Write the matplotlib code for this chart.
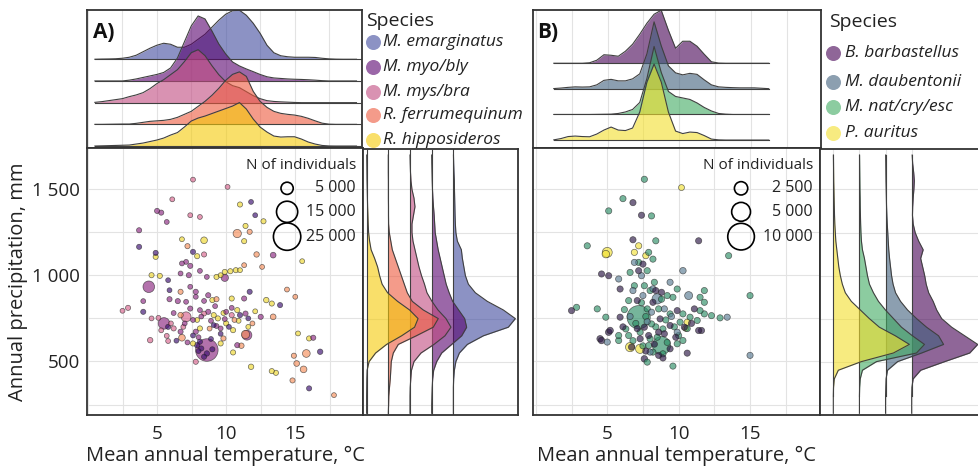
"""Bat species climatic niches: temperature vs precipitation with marginal ridgelines."""

import numpy as np
import matplotlib.pyplot as plt
from matplotlib.ticker import MultipleLocator

plt.rcParams['font.family'] = ['Open Sans', 'DejaVu Sans']

# ---------------------------------------------------------------- data, panel A
SPECIES_A = ['M. emarginatus', 'M. myo/bly', 'M. mys/bra', 'R. ferrumequinum', 'R. hipposideros']
FILL_A = ['#3f4a9e', '#58026e', '#c04980', '#ed583c', '#f5ca07']
DOT_A = ['#3b0f70', '#8c2981', '#d8658e', '#f58f5c', '#eed630']

# relative density along temperature, sampled every 0.5 degC from 0.5 to 19.5
TEMP_GRID_A = np.arange(0.5, 19.51, 0.5)
TEMP_DENS_A = [
    [0, 0.2, 0.3, 0.5, 1, 2, 4, 7.5, 11, 14, 16, 15, 12, 12, 15, 20, 25, 32, 39, 45,
     48.5, 49, 44, 36, 26, 14, 6.5, 3.5, 2.5, 2, 2, 2, 1.8, 1, 0.4, 0.1, 0, 0, 0],
    [0, 0, 0, 0, 0, 0.8, 2, 3.5, 5, 6.5, 8.5, 13, 23, 39, 55, 65, 62, 50, 37, 27,
     19, 15, 12, 9.3, 6.5, 4.2, 3, 2.5, 2, 1.7, 1.5, 1.2, 0.8, 0.3, 0, 0, 0, 0, 0],
    [0.3, 1, 2, 3, 4, 6, 7.7, 10, 14, 19, 23, 28, 33, 41, 50, 53, 47, 37, 28, 21,
     17, 15, 11, 7, 4, 2, 1.2, 0.8, 0.5, 0.2, 0, 0, 0, 0, 0, 0, 0, 0, 0],
    [0, 0, 0.1, 0.2, 0.3, 0.3, 1, 2, 3, 3.5, 4, 5, 7, 10, 13, 18, 23, 29, 36, 44,
     50, 52.5, 48, 33, 23, 17, 13, 11, 10, 9.3, 8, 6, 3.5, 1.2, 0.2, 0, 0, 0, 0],
    [0, 0.2, 0.4, 0.6, 0.8, 1, 2, 3, 4.5, 6, 8, 11, 13.5, 19, 25, 28, 30, 32.5, 35, 37.5,
     40, 43.5, 37, 27, 19, 14, 10, 9, 9.3, 9.3, 7, 4, 2, 0.6, 0.1, 0, 0, 0, 0],
]

# relative density along precipitation, sampled every 50 mm from 200 to 1700
PREC_GRID = np.arange(200, 1701, 50)
PREC_DENS_A = [
    [0, 0, 0, 0, 0.3, 1, 2.5, 6, 14, 30, 55, 62, 50, 34, 22, 15, 12, 10.5, 9, 8,
     4, 2.5, 2, 1.7, 1.5, 1.3, 1.1, 1, 0.6, 0.3, 0.1],
    [0, 0, 0.2, 0.5, 1, 2, 5, 10, 20, 30, 35, 33, 27, 21, 17.5, 14.5, 12.5, 10.5, 8.5, 6.5,
     5, 3.5, 3, 2.5, 1.8, 1.2, 0.8, 0.5, 0.3, 0.1, 0],
    [0, 0, 0, 0.2, 0.8, 1.5, 4, 11, 24, 35, 41, 36, 28, 22, 17, 14.5, 11.5, 9, 7, 5,
     3, 2, 2, 3.5, 5, 4, 2, 1, 0.5, 0.2, 0],
    [0, 0.3, 0.5, 1.2, 2, 2.5, 3, 5, 10, 28, 45, 50, 35, 24, 19, 16, 13, 10, 7, 4,
     2.5, 1, 0.3, 0.2, 0.2, 0.1, 0.1, 0.1, 0, 0, 0],
    [0, 0, 0, 0.1, 0.2, 0.5, 2.5, 9, 20, 35, 48, 51.5, 43, 31, 21, 15.5, 13, 11, 8, 4.5,
     3, 2, 1.6, 1.3, 1, 0.8, 0.6, 0.4, 0.3, 0.2, 0.1],
]

# sites: (mean annual temperature, annual precipitation, N of individuals)
EMARG_PTS = [
    (11.8, 1423, 800), (12.1, 1346, 800), (3.7, 1163, 900), (4.9, 1128, 900), (5.8, 970, 800),
    (4.0, 787, 900), (5.9, 912, 800), (11.7, 903, 900), (13.9, 826, 900), (5.8, 700, 900),
    (7.9, 594, 1000), (8.2, 575, 900), (8.6, 546, 1000), (9.0, 570, 900), (8.4, 527, 900),
    (8.1, 614, 900), (16.8, 556, 1000), (16.0, 344, 900), (9.1, 710, 800), (7.6, 1134, 900),
    (11.0, 768, 900), (11.6, 749, 800), (8.9, 630, 800), (8.0, 560, 800), (7.6, 650, 800),
    (9.6, 660, 800), (10.2, 700, 800), (6.4, 620, 800),
]
MYO_PTS = [
    (5.0, 1371, 900), (5.3, 1361, 900), (5.7, 1307, 800), (3.7, 1259, 900), (13.4, 1115, 1100),
    (6.8, 1067, 800), (7.1, 1076, 800), (7.4, 1053, 900), (6.7, 1009, 800), (7.3, 999, 900),
    (8.1, 1024, 800), (8.6, 989, 800), (9.9, 984, 1800), (4.4, 932, 4500), (7.4, 932, 800),
    (7.8, 903, 900), (6.5, 849, 900), (7.1, 845, 800), (7.8, 874, 800), (8.7, 883, 900),
    (11.3, 864, 900), (5.5, 720, 4500), (7.4, 806, 900), (8.1, 797, 800), (8.7, 787, 900),
    (10.0, 787, 800), (11.4, 777, 900), (6.7, 672, 900), (7.8, 672, 900), (9.6, 691, 800),
    (8.6, 566, 17000), (11.5, 652, 3300), (16.3, 637, 900), (10.8, 594, 900), (12.5, 758, 900),
    (4.0, 849, 800), (5.9, 860, 900), (7.0, 720, 800), (7.6, 740, 800), (8.2, 760, 800),
    (8.9, 735, 800), (9.3, 705, 800), (8.0, 640, 800), (7.2, 610, 800), (9.9, 745, 800),
    (10.4, 810, 800), (6.2, 780, 800), (8.4, 850, 800), (9.2, 820, 800),
]
MYS_PTS = [
    (7.6, 1552, 800), (6.1, 1438, 800), (7.4, 1346, 800), (8.1, 1336, 800), (8.4, 1119, 900),
    (2.5, 793, 800), (2.9, 810, 900), (4.6, 749, 800), (5.1, 752, 800), (7.1, 758, 3300),
    (4.5, 623, 1000), (5.7, 648, 800), (5.8, 618, 800), (7.8, 498, 900), (10.1, 1510, 800),
    (6.2, 691, 900), (8.4, 777, 800), (10.4, 768, 900), (6.0, 720, 800), (6.9, 700, 800),
    (5.3, 680, 800),
]
FERR_PTS = [
    (10.8, 1240, 2300), (11.7, 1250, 900), (12.2, 1119, 1000), (11.3, 1057, 800), (12.6, 1047, 800),
    (7.2, 1167, 900), (6.7, 903, 900), (6.7, 768, 1000), (14.4, 916, 800), (15.0, 874, 800),
    (13.4, 758, 1100), (6.8, 637, 1500), (11.4, 656, 2300), (14.9, 533, 900), (15.8, 546, 2000),
    (15.1, 488, 1100), (15.6, 454, 1500), (14.8, 390, 900), (17.8, 305, 800), (9.3, 860, 900),
    (9.8, 633, 900), (11.1, 591, 1000), (10.6, 740, 800), (11.9, 720, 800), (8.8, 690, 800),
]
HIPPO_PTS = [
    (11.0, 1408, 900), (12.7, 1311, 900), (11.4, 1284, 900), (11.3, 1196, 900), (6.8, 1207, 800),
    (8.4, 1201, 1500), (7.9, 1109, 900), (4.9, 1105, 900), (15.5, 1080, 800), (4.6, 999, 900),
    (5.2, 995, 900), (9.3, 989, 900), (9.6, 999, 800), (9.9, 1018, 900), (10.3, 1022, 900),
    (10.7, 1028, 900), (11.0, 1028, 800), (10.4, 864, 900), (12.9, 855, 1000), (13.3, 835, 900),
    (9.1, 768, 900), (9.4, 749, 900), (10.8, 797, 900), (7.6, 604, 900), (10.5, 681, 900),
    (10.5, 552, 900), (9.6, 604, 900), (15.2, 662, 800), (16.0, 633, 900), (11.8, 469, 1000),
    (13.3, 444, 900), (13.6, 434, 900), (10.0, 720, 900), (8.1, 691, 900), (9.0, 855, 900),
    (9.8, 780, 800), (10.9, 735, 800), (11.6, 700, 800), (7.9, 740, 800), (12.1, 790, 800),
]
POINTS_A = [EMARG_PTS, MYO_PTS, MYS_PTS, FERR_PTS, HIPPO_PTS]
SIZE_KEYS_A = [5000, 15000, 25000]
SIZE_LABELS_A = ['5 000', '15 000', '25 000']

# ---------------------------------------------------------------- data, panel B
SPECIES_B = ['B. barbastellus', 'M. daubentonii', 'M. nat/cry/esc', 'P. auritus']
FILL_B = ['#440154', '#405f7c', '#40aa61', '#f3df2b']
DOT_B = ['#2e1a47', '#5c7d94', '#2f8f68', '#f2e23a']

TEMP_GRID_B = np.arange(1.25, 16.26, 0.5)
TEMP_DENS_B = [
    [0, 0, 0, 0, 0, 0.5, 3, 8.5, 8, 7, 12, 19, 29, 40, 49, 53, 33, 15, 22, 22,
     17, 9, 1.5, 0.2, 0, 0, 0, 0, 0, 0, 0],
    [0.3, 0.8, 1.5, 2, 1.8, 2, 4, 8.5, 9.5, 8, 8, 10, 15, 35, 67, 43, 23, 16, 14, 15.5,
     14.5, 9, 4, 2, 1.5, 1.2, 1, 1, 1, 0.6, 0.2],
    [0, 0, 0, 0, 0, 0, 0.1, 0.2, 0.3, 1, 2.5, 5, 12, 36, 68, 42, 23, 18, 16.5, 15,
     11.5, 7, 3.5, 1, 0.3, 0, 0, 0, 0, 0, 0],
    [0.2, 1.5, 3.5, 4, 3.5, 3.3, 6, 10, 13, 10, 9.5, 12, 28, 58, 76, 58, 28, 9, 6.5, 8,
     7.5, 4.5, 1, 0.2, 0, 0, 0, 0, 0, 0, 0],
]
PREC_DENS_B = [
    [0, 0, 0, 0.2, 1.5, 9, 33, 58, 66, 53, 40, 30, 25, 21.5, 17, 14.5, 13, 11, 9, 11.5,
     7, 3.5, 1.5, 0.8, 1, 1.5, 2.2, 2.7, 2, 1, 0.5],
    [0, 0, 0, 0.2, 0.5, 2, 12, 36, 58, 53, 41, 31, 22, 15, 10, 7.5, 6, 5, 4, 3.2,
     2.7, 2.2, 1.7, 1.3, 1, 0.8, 0.6, 0.4, 0.3, 0.2, 0.1],
    [0, 0, 0, 0.2, 0.8, 3, 17, 57, 65, 53, 42, 34, 26, 19, 14, 10, 8, 6.5, 5, 3,
     2, 1.5, 1.2, 1, 0.8, 0.7, 0.5, 0.4, 0.3, 0.2, 0.1],
    [0, 0, 0, 0.2, 1, 5, 28, 60, 76, 62, 46, 36, 27, 18, 12, 9, 7, 5.5, 4.5, 3.5,
     2.5, 2, 1.5, 1.2, 1, 0.8, 0.6, 0.4, 0.3, 0.2, 0.1],
]

BARB_PTS = [
    (6.8, 1419, 550), (7.4, 1346, 550), (6.8, 1204, 550), (11.4, 1198, 550), (7.5, 1063, 550),
    (4.6, 1006, 550), (5.1, 996, 550), (7.2, 1025, 550), (5.9, 919, 550), (8.4, 910, 550),
    (8.8, 900, 550), (2.5, 794, 550), (5.9, 756, 550), (7.1, 852, 550), (8.2, 842, 550),
    (4.6, 621, 600), (4.5, 631, 600), (5.2, 679, 600), (5.1, 669, 600), (6.7, 583, 550),
    (7.6, 515, 600), (7.3, 631, 550), (8.6, 669, 550), (9.4, 708, 550), (10.4, 698, 550),
    (11.4, 679, 550), (11.6, 679, 550), (10.6, 548, 550), (8.7, 746, 550), (7.6, 698, 550),
    (8.6, 535, 550), (9.4, 573, 550), (11.1, 804, 550), (9.9, 794, 550), (7.1, 690, 550),
    (7.9, 650, 550), (8.3, 600, 550), (9.0, 660, 550), (9.8, 640, 550), (10.9, 720, 550),
    (6.1, 700, 550), (7.7, 560, 550), (8.9, 520, 550),
]
DAUB_PTS = [
    (6.9, 1073, 550), (5.8, 977, 550), (7.4, 996, 550), (10.3, 1025, 600), (6.8, 910, 550),
    (9.4, 958, 550), (7.5, 881, 550), (10.7, 881, 900), (8.5, 862, 1500), (5.0, 612, 550),
    (13.4, 756, 550), (15.0, 535, 550), (9.0, 804, 550), (8.1, 785, 550), (9.9, 669, 550),
    (8.0, 554, 550), (7.8, 730, 550), (9.5, 760, 550), (6.6, 760, 550), (8.2, 920, 550),
]
NAT_PTS = [
    (7.6, 1554, 550), (6.1, 1442, 550), (5.1, 1371, 550), (8.1, 1342, 550), (8.4, 1198, 550),
    (3.6, 1169, 550), (7.9, 1131, 550), (8.2, 1092, 550), (7.2, 1073, 550), (13.5, 1112, 550),
    (6.6, 1015, 550), (7.8, 1025, 550), (6.9, 938, 550), (7.6, 938, 550), (8.3, 958, 550),
    (8.0, 910, 550), (9.2, 881, 550), (9.6, 871, 550), (9.9, 919, 550), (11.8, 910, 550),
    (11.5, 871, 550), (11.8, 842, 550), (15.0, 881, 550), (2.85, 813, 550), (4.3, 804, 550),
    (4.9, 756, 550), (6.5, 852, 550), (7.2, 756, 7600), (7.8, 804, 550), (8.6, 804, 550),
    (9.4, 775, 550), (10.3, 775, 550), (10.8, 756, 550), (11.5, 794, 550), (11.8, 775, 550),
    (12.3, 765, 550), (12.9, 752, 550), (5.8, 650, 550), (5.8, 621, 550), (6.3, 688, 550),
    (6.5, 650, 550), (7.8, 496, 550), (8.0, 631, 550), (8.9, 688, 550), (10.1, 727, 550),
    (11.3, 737, 550), (8.8, 592, 4600), (8.2, 554, 550), (8.9, 544, 550), (9.9, 602, 550),
    (10.3, 621, 550), (9.6, 473, 550), (7.9, 592, 550), (7.3, 669, 550), (8.1, 717, 550),
    (7.0, 720, 550), (7.7, 760, 550), (8.4, 700, 550), (9.1, 740, 550), (9.7, 700, 550),
    (10.6, 690, 550), (6.8, 620, 550), (7.5, 590, 550), (8.5, 640, 550), (9.2, 610, 550),
    (10.0, 650, 550), (6.2, 800, 550), (7.4, 840, 550), (8.8, 860, 550),
]
AUR_PTS = [
    (10.2, 1506, 500), (5.0, 1131, 1400), (4.9, 1121, 800), (7.2, 1169, 550), (6.9, 1131, 550),
    (7.7, 1112, 550), (6.6, 583, 1200), (7.3, 573, 1200), (10.5, 692, 550), (10.6, 727, 550),
]
POINTS_B = [BARB_PTS, DAUB_PTS, NAT_PTS, AUR_PTS]
SIZE_KEYS_B = [2500, 5000, 10000]
SIZE_LABELS_B = ['2 500', '5 000', '10 000']

Y_TICKS = [500, 1000, 1500]
Y_TICK_LABELS = ['500', '1 000', '1 500']
X_TICKS = [5, 10, 15]

# ---------------------------------------------------------------- styling
W, H = 979, 470
LINE = '#404040'
SPINE = '#333333'
GRID = '#e3e3e3'
TEXT = '#222222'
FILL_ALPHA = 0.6
DOT_ALPHA = 0.66
YLIM = (190, 1735)

fig = plt.figure(figsize=(W / 100, H / 100), dpi=100)
fig.patch.set_facecolor('white')


def px_axes(left, top, right, bottom):
    """Add axes placed by a pixel box."""
    return fig.add_axes([left / W, 1 - bottom / H, (right - left) / W, (bottom - top) / H])


def frame(ax):
    for side in ax.spines.values():
        side.set_color(SPINE)
        side.set_linewidth(1.3)
    ax.tick_params(length=0, labelbottom=False, labelleft=False)
    ax.set_axisbelow(True)


def top_ridges(ax, grid, densities, colors, scale, x_end):
    n = len(densities)
    for i, (dens, color) in enumerate(zip(densities, colors)):
        base = n - 1 - i
        top = base + np.asarray(dens) * scale
        ax.fill_between(grid, base, top, color=color, alpha=FILL_ALPHA, lw=0, zorder=2 + i)
        ax.plot(grid, top, color=LINE, lw=0.8, zorder=2 + i)
        ax.plot([grid[0], x_end], [base, base], color=LINE, lw=0.8, zorder=2 + i)
    ax.xaxis.set_major_locator(MultipleLocator(2.5))
    ax.grid(True, axis='x', color=GRID, lw=0.8)


def side_ridges(ax, grid, densities, colors, scale, full):
    n = len(densities)
    for i, (dens, color) in enumerate(zip(densities, colors)):
        base = n - 1 - i
        right = base + np.asarray(dens) * scale
        ax.fill_betweenx(grid, base, right, color=color, alpha=FILL_ALPHA, lw=0, zorder=2 + i)
        ax.plot(right, grid, color=LINE, lw=0.8, zorder=2 + i)
        if full:
            ax.axvline(base, color=LINE, lw=0.8, zorder=2 + i)
        else:
            ax.axvline(base, color=GRID, lw=0.8, zorder=1)
            ax.plot([base, base], [grid[0] + 100, grid[-1]], color=LINE, lw=0.8, zorder=2 + i)
    ax.yaxis.set_major_locator(MultipleLocator(250))
    ax.grid(True, axis='y', color=GRID, lw=0.8)


def scatter_panel(ax, groups, colors, size_scale, keys, key_labels, ylabels):
    t, p, n, c = [], [], [], []
    for pts, color in zip(groups, colors):
        for temp, prec, count in pts:
            t.append(temp)
            p.append(prec)
            n.append(count)
            c.append(color)
    order = np.argsort(n, kind='stable')[::-1]
    t, p, n = np.array(t)[order], np.array(p)[order], np.array(n)[order]
    c = [c[k] for k in order]
    ax.scatter(t, p, s=n * size_scale, c=c, alpha=DOT_ALPHA, edgecolors='#222222',
               linewidths=0.5, zorder=3)
    ax.set_xticks(X_TICKS)
    ax.set_yticks(Y_TICKS)
    ax.xaxis.set_minor_locator(MultipleLocator(2.5))
    ax.yaxis.set_minor_locator(MultipleLocator(250))
    ax.grid(True, which='both', color=GRID, lw=0.8)
    ax.tick_params(which='both', length=0, labelsize=13.5, labelcolor=TEXT,
                   labelbottom=True, labelleft=ylabels)
    ax.tick_params(axis='x', pad=7)
    ax.tick_params(axis='y', pad=5)
    if ylabels:
        ax.set_yticklabels(Y_TICK_LABELS)
        ax.set_ylabel('Annual precipitation, mm', fontsize=14.5, color=TEXT)
        ax.yaxis.set_label_coords(-0.215, 0.5)
    ax.set_xlabel('Mean annual temperature, \u00b0C', fontsize=14.5, color=TEXT)
    ax.xaxis.set_label_coords(0.5, -0.115)
    ax.text(0.975, 0.936, 'N of individuals', transform=ax.transAxes, fontsize=11,
            ha='right', va='center', color=TEXT, zorder=5)
    for key, label, y in zip(keys, key_labels, [0.849, 0.761, 0.668]):
        ax.scatter([0.725], [y], s=key * size_scale, transform=ax.transAxes,
                   facecolors='none', edgecolors='black', linewidths=1.2, zorder=5,
                   clip_on=False)
        ax.text(0.975, y, label, transform=ax.transAxes, fontsize=11.5,
                ha='right', va='center', color=TEXT, zorder=5)


# ---------------------------------------------------------------- panel A
ax_top_a = px_axes(87, 10, 362, 148)
ax_main_a = px_axes(87, 148, 363, 415)
ax_side_a = px_axes(363, 149, 518, 415)

for ax in (ax_top_a, ax_main_a, ax_side_a):
    frame(ax)

ax_main_a.set_xlim(-0.07, 19.9)
ax_main_a.set_ylim(*YLIM)
scatter_panel(ax_main_a, POINTS_A, DOT_A, 0.0155, SIZE_KEYS_A, SIZE_LABELS_A, True)

ax_top_a.set_xlim(-0.07, 19.9)
ax_top_a.set_ylim(-0.09, 6.27)
top_ridges(ax_top_a, TEMP_GRID_A, TEMP_DENS_A, FILL_A, 1 / 21.7, 19.9)

ax_side_a.set_ylim(*YLIM)
ax_side_a.set_xlim(-0.166, 6.98)
side_ridges(ax_side_a, PREC_GRID, PREC_DENS_A, FILL_A, 1 / 21.7, True)

# ---------------------------------------------------------------- panel B
ax_top_b = px_axes(533, 10, 821, 148)
ax_main_b = px_axes(533, 148, 820, 415)
ax_side_b = px_axes(820, 149, 990, 415)

for ax in (ax_top_b, ax_main_b, ax_side_b):
    frame(ax)
ax_side_b.spines['right'].set_visible(False)

ax_main_b.set_xlim(-0.2, 19.9)
ax_main_b.set_ylim(*YLIM)
scatter_panel(ax_main_b, POINTS_B, DOT_B, 0.0368, SIZE_KEYS_B, SIZE_LABELS_B, False)

ax_top_b.set_xlim(-0.2, 19.9)
ax_top_b.set_ylim(-0.31, 5.08)
top_ridges(ax_top_b, TEMP_GRID_B, TEMP_DENS_B, FILL_B, 1 / 25.6, TEMP_GRID_B[-1])

ax_side_b.set_ylim(*YLIM)
ax_side_b.set_xlim(-0.51, 6.0)
side_ridges(ax_side_b, PREC_GRID, PREC_DENS_B, FILL_B, 1 / 26.1, False)

# ---------------------------------------------------------------- legends and panel tags
overlay = fig.add_axes([0, 0, 1, 1])
overlay.set_xlim(0, W)
overlay.set_ylim(H, 0)
overlay.set_axis_off()


def species_legend(x_title, y_title, x_dot, x_text, rows, labels, colors):
    overlay.text(x_title, y_title, 'Species', fontsize=14, ha='left', va='center', color=TEXT)
    for y, label, color in zip(rows, labels, colors):
        overlay.scatter([x_dot], [y], s=117, color=color, alpha=FILL_ALPHA, lw=0)
        overlay.text(x_text, y, label, fontsize=12.5, style='italic', ha='left',
                     va='center', color=TEXT)


species_legend(366, 21, 373, 383, [41.7, 66.7, 91.7, 115, 140], SPECIES_A, FILL_A)
species_legend(829, 22, 833, 845, [53.3, 81.7, 107.3, 133.3], SPECIES_B, FILL_B)

overlay.text(93, 32, 'A)', fontsize=15, fontweight='bold', ha='left', va='center', color='#111111')
overlay.text(537, 32, 'B)', fontsize=15, fontweight='bold', ha='left', va='center', color='#111111')

fig.savefig('out.png', dpi=100, facecolor='white')
